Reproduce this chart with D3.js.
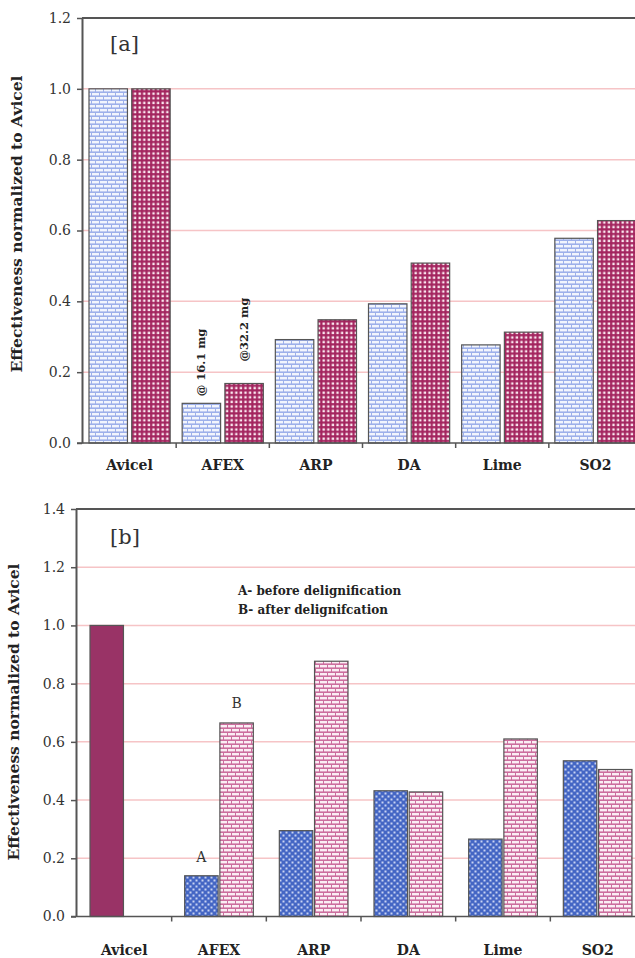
<!DOCTYPE html>
<html>
<head>
<meta charset="utf-8">
<script src="https://cdn.jsdelivr.net/npm/d3@7"></script>
<style>
  body { margin: 0; background: #fff; }
  svg { display: block; font-family: "DejaVu Serif", serif; }
</style>
</head>
<body>
<script>
// size of page
var width = 635;
var height = 958;
var serif = "DejaVu Serif";

// data
var categories = ["Avicel", "AFEX", "ARP", "DA", "Lime", "SO2"];
// panel [a]
var aFirst = [1.0, 0.112, 0.292, 0.393, 0.277, 0.578];
var aSecond = [1.0, 0.168, 0.348, 0.508, 0.313, 0.628];
var aTicks = [0, 0.2, 0.4, 0.6, 0.8, 1.0, 1.2];
// panel [b]
var bBefore = [1.0, 0.14, 0.295, 0.432, 0.266, 0.535];
var bAfter = [null, 0.665, 0.877, 0.428, 0.61, 0.505];
var bTicks = [0, 0.2, 0.4, 0.6, 0.8, 1.0, 1.2, 1.4];

var svg = d3.select("body")
  .append("svg")
  .attr("width", width)
  .attr("height", height);

// fill patterns
var defs = svg.append("defs");

function brick(id, bg, fg) {
  var p = defs.append("pattern")
    .attr("id", id)
    .attr("patternUnits", "userSpaceOnUse")
    .attr("width", 8).attr("height", 8);
  p.append("rect").attr("width", 8).attr("height", 8).attr("fill", bg);
  p.append("rect").attr("x", 0).attr("y", 1).attr("width", 7).attr("height", 2.4).attr("fill", fg);
  p.append("rect").attr("x", 4).attr("y", 5).attr("width", 7).attr("height", 2.4).attr("fill", fg);
  p.append("rect").attr("x", -4).attr("y", 5).attr("width", 7).attr("height", 2.4).attr("fill", fg);
}
function checker(id, bg, fg, size, dot) {
  var p = defs.append("pattern")
    .attr("id", id)
    .attr("patternUnits", "userSpaceOnUse")
    .attr("width", size).attr("height", size);
  p.append("rect").attr("width", size).attr("height", size).attr("fill", bg);
  p.append("rect").attr("x", 0.5).attr("y", 0.5).attr("width", dot).attr("height", dot).attr("fill", fg);
}
function dots(id, bg, fg) {
  var p = defs.append("pattern")
    .attr("id", id)
    .attr("patternUnits", "userSpaceOnUse")
    .attr("width", 6).attr("height", 6);
  p.append("rect").attr("width", 6).attr("height", 6).attr("fill", bg);
  p.append("rect").attr("x", 0.5).attr("y", 0.5).attr("width", 2).attr("height", 2).attr("fill", fg).attr("opacity", 0.85);
  p.append("rect").attr("x", 3.5).attr("y", 3.5).attr("width", 2).attr("height", 2).attr("fill", fg).attr("opacity", 0.85);
}
brick("blueBrick", "#9db0ea", "#f2f5fd");
checker("redCheck", "#a3245e", "#fbe8f0", 4.6, 2.4);
dots("blueDots", "#4466c4", "#dfe6fb");
brick("pinkBrick", "#cc6e9e", "#fbeef4");

// one panel
function panel(opt) {
  var g = svg.append("g");

  var y = d3.scaleLinear().domain(opt.domain).range([opt.bottom, opt.top]);
  var x = d3.scaleBand().domain(categories).range([opt.left + 1, opt.right]).padding(0);
  var x1 = d3.scaleBand().domain([0, 1])
    .range([opt.padL, x.bandwidth() - opt.padR]).paddingInner(opt.gap);

  // grid lines
  g.selectAll(".grid")
    .data(opt.ticks.filter(function(d) { return d > 0 && d < opt.domain[1]; }))
    .enter()
    .append("line")
    .attr("x1", opt.left).attr("x2", width)
    .attr("y1", function(d) { return y(d); })
    .attr("y2", function(d) { return y(d); })
    .style("stroke", "#f6c4c6")
    .style("stroke-width", 1.5);

  // bars
  opt.series.forEach(function(s, si) {
    g.selectAll(".bar" + si)
      .data(s.values.map(function(v, i) { return { cat: categories[i], v: v, i: i }; })
        .filter(function(d) { return d.v != null; }))
      .enter()
      .append("rect")
      .attr("x", function(d) { return x(d.cat) + x1(si); })
      .attr("y", function(d) { return y(d.v); })
      .attr("width", x1.bandwidth())
      .attr("height", function(d) { return y(0) - y(d.v); })
      .style("fill", function(d) { return s.fill(d.i); })
      .style("stroke", "#555")
      .style("stroke-width", 1.2);
  });

  // y axis
  var yAxis = g.append("g")
    .attr("transform", "translate(" + opt.left + ",0)")
    .call(d3.axisLeft(y).tickValues(opt.ticks).tickFormat(d3.format(".1f")).tickSize(5).tickSizeOuter(0).tickPadding(6));
  yAxis.select(".domain").style("stroke", "#555").style("stroke-width", 2);
  yAxis.selectAll(".tick line").style("stroke", "#555").style("stroke-width", 1.5);
  yAxis.selectAll(".tick text")
    .style("font-family", serif)
    .style("font-size", "14px")
    .style("fill", "#333");

  // top frame line
  g.append("line")
    .attr("x1", opt.left).attr("x2", width)
    .attr("y1", opt.top).attr("y2", opt.top)
    .style("stroke", "#555").style("stroke-width", 2);

  // x axis line and ticks between categories
  g.append("line")
    .attr("x1", opt.left - 5).attr("x2", width)
    .attr("y1", y(0)).attr("y2", y(0))
    .style("stroke", "#555").style("stroke-width", 1.5);
  g.selectAll(".xtick")
    .data(categories.slice(1))
    .enter()
    .append("line")
    .attr("x1", function(d) { return x(d); })
    .attr("x2", function(d) { return x(d); })
    .attr("y1", y(0)).attr("y2", y(0) + 5)
    .style("stroke", "#555").style("stroke-width", 1.5);

  g.selectAll(".xlab")
    .data(categories)
    .enter()
    .append("text")
    .attr("x", function(d) { return x(d) + x.bandwidth() / 2; })
    .attr("y", opt.labelY)
    .attr("text-anchor", "middle")
    .style("font-weight", "bold")
    .style("font-size", "14px")
    .style("fill", "#222")
    .text(function(d) { return d; });

  // y title
  g.append("text")
    .attr("transform", "translate(" + opt.titleX + "," + opt.titleY + ") rotate(-90)")
    .attr("text-anchor", "middle")
    .style("font-weight", "bold")
    .style("font-size", "15.5px")
    .style("fill", "#222")
    .text("Effectiveness normalized to Avicel");

  // panel tag
  g.append("text")
    .attr("x", 110).attr("y", opt.tagY)
    .style("font-size", "21px")
    .style("fill", "#333")
    .text(opt.tag);

  return { g: g, x: x, x1: x1, y: y };
}

// panel [a]
var pa = panel({
  domain: [0, 1.2], ticks: aTicks,
  top: 18, bottom: 443, left: 82, right: 642,
  padL: 6, padR: 6, gap: 0.1,
  labelY: 470, titleX: 22, titleY: 224, tagY: 51, tag: "[a]",
  series: [
    { values: aFirst, fill: function() { return "url(#blueBrick)"; } },
    { values: aSecond, fill: function() { return "url(#redCheck)"; } }
  ]
});

// rotated dose notes above AFEX bars
[["@ 16.1 mg", 0, aFirst[1], 7], ["@32.2 mg", 1, aSecond[1], 22]].forEach(function(n) {
  var cx = pa.x("AFEX") + pa.x1(n[1]) + pa.x1.bandwidth() / 2 + 4;
  pa.g.append("text")
    .attr("transform", "translate(" + cx + "," + (pa.y(n[2]) - n[3]) + ") rotate(-90)")
    .style("font-weight", "bold")
    .style("font-size", "11.5px")
    .style("fill", "#222")
    .text(n[0]);
});

// panel [b]
var pb = panel({
  domain: [0, 1.4], ticks: bTicks,
  top: 509, bottom: 916.5, left: 76, right: 645,
  padL: 13, padR: 13, gap: 0.05,
  labelY: 955, titleX: 19, titleY: 712, tagY: 544, tag: "[b]",
  series: [
    { values: bBefore, fill: function(i) { return i === 0 ? "#993366" : "url(#blueDots)"; } },
    { values: bAfter, fill: function() { return "url(#pinkBrick)"; } }
  ]
});

// A / B marks on AFEX
pb.g.append("text")
  .attr("x", pb.x("AFEX") + pb.x1(0) + pb.x1.bandwidth() / 2)
  .attr("y", pb.y(bBefore[1]) - 14)
  .attr("text-anchor", "middle")
  .style("font-size", "14px").style("fill", "#333")
  .text("A");
pb.g.append("text")
  .attr("x", pb.x("AFEX") + pb.x1(1) + pb.x1.bandwidth() / 2)
  .attr("y", pb.y(bAfter[1]) - 15)
  .attr("text-anchor", "middle")
  .style("font-size", "14px").style("fill", "#333")
  .text("B");

// legend notes
var notes = ["A- before delignification", "B- after delignifcation"];
pb.g.selectAll(".note")
  .data(notes)
  .enter()
  .append("text")
  .attr("x", 238)
  .attr("y", function(d, i) { return 595 + i * 19; })
  .style("font-weight", "bold")
  .style("font-size", "12px")
  .style("fill", "#222")
  .text(function(d) { return d; });
</script>
</body>
</html>
